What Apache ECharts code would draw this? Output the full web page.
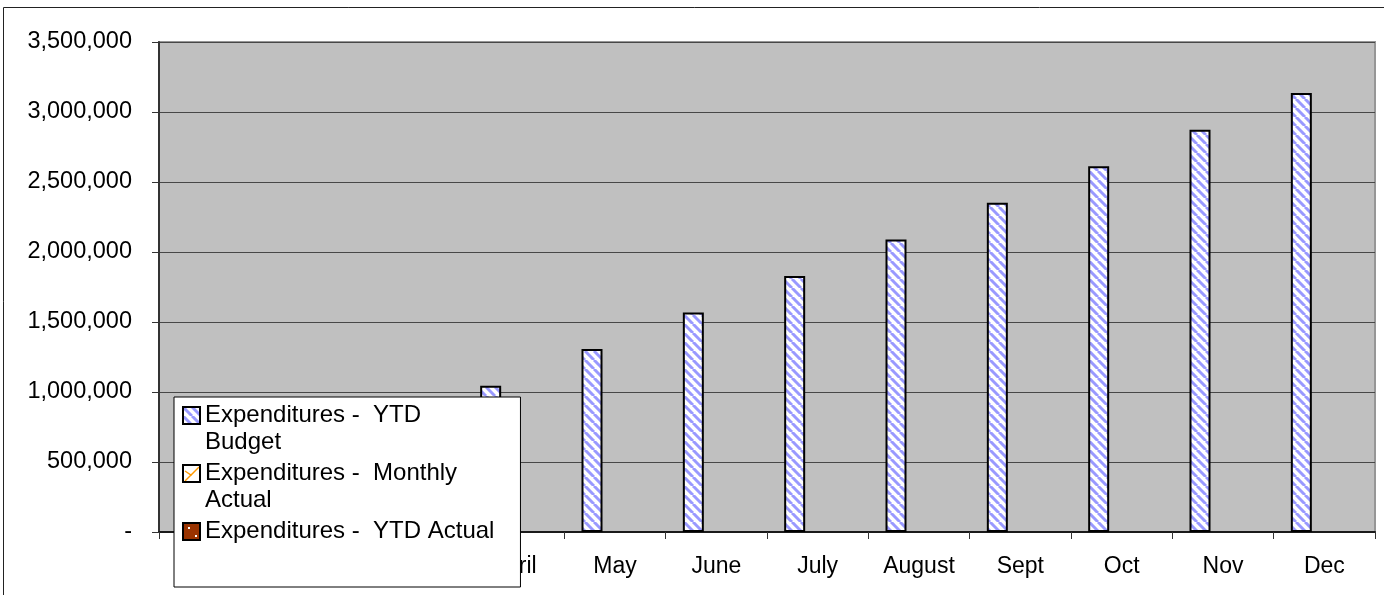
<!DOCTYPE html>
<html>
<head>
<meta charset="utf-8">
<script src="https://cdn.jsdelivr.net/npm/echarts@6/dist/echarts.min.js"></script>
<style>
html,body{margin:0;padding:0;background:#ffffff;}
#chart{width:1384px;height:595px;}
</style>
</head>
<body>
<div id="chart"></div>
<script>
// ---- data ----
const categories = ['Jan', 'Feb', 'March', 'April', 'May', 'June', 'July', 'August', 'Sept', 'Oct', 'Nov', 'Dec'];
const ytdBudget = [261000, 522500, 784000, 1045000, 1307000, 1568000, 1829000, 2090000, 2352000, 2613000, 2874000, 3135000];
const monthlyActual = [null, null, null, null, null, null, null, null, null, null, null, null];
const ytdActual = [null, null, null, null, null, null, null, null, null, null, null, null];
const seriesNames = ['Expenditures -  YTD Budget', 'Expenditures -  Monthly Actual', 'Expenditures -  YTD Actual'];
// legend text lines (first line aligned with the legend key)
const legendLines = [['Expenditures -  YTD', 'Budget'], ['Expenditures -  Monthly', 'Actual'], ['Expenditures -  YTD Actual', '']];
const yMin = 0;
const yMax = 3500000;
const yStep = 500000;

// ---- fill patterns ----
function makePattern(size, draw) {
  const c = document.createElement('canvas');
  c.width = size; c.height = size;
  const ctx = c.getContext('2d');
  draw(ctx, size);
  return { image: c, repeat: 'repeat' };
}
const hatchBlue = makePattern(9, function (ctx, s) {
  ctx.fillStyle = '#ffffff'; ctx.fillRect(0, 0, s, s);
  ctx.strokeStyle = '#9999ff'; ctx.lineWidth = 3;
  [-s, 0, s].forEach(function (k) {
    ctx.beginPath(); ctx.moveTo(k, 0); ctx.lineTo(k + s, s); ctx.stroke();
  });
});
const checkOrange = makePattern(17, function (ctx, s) {
  ctx.fillStyle = '#ffffff'; ctx.fillRect(0, 0, s, s);
  ctx.strokeStyle = '#ff9900'; ctx.lineWidth = 1.4;
  ctx.beginPath(); ctx.moveTo(2, 6); ctx.lineTo(8, 10); ctx.lineTo(16, 2); ctx.stroke();
  ctx.beginPath(); ctx.moveTo(8, 10); ctx.lineTo(2, 16); ctx.stroke();
});
const dotsBrown = makePattern(17, function (ctx, s) {
  ctx.fillStyle = '#993300'; ctx.fillRect(0, 0, s, s);
  ctx.fillStyle = '#ffffff';
  ctx.fillRect(5, 4, 2, 2);
  ctx.fillRect(12, 12, 2, 2);
});

const FONT = '"Liberation Sans", Arial, sans-serif';

const chart = echarts.init(document.getElementById('chart'), null, { renderer: 'canvas' });

const option = {
  animation: false,
  backgroundColor: '#ffffff',
  textStyle: { fontFamily: FONT },
  graphic: [{
    type: 'rect',
    silent: true,
    z: -10,
    shape: { x: 3.5, y: 7.5, width: 1390, height: 600 },
    style: { fill: null, stroke: '#222222', lineWidth: 1 }
  }],
  grid: {
    left: 159, right: 9, top: 42, bottom: 63,
    show: true,
    backgroundColor: '#c0c0c0',
    borderColor: '#969696',
    borderWidth: 2,
    outerBoundsMode: 'none',
    containLabel: false
  },
  legend: {
    orient: 'vertical',
    left: 174,
    top: 397,
    height: 1000,
    padding: [-22, 26, 15, 8],
    backgroundColor: '#ffffff',
    borderColor: '#000000',
    borderWidth: 1,
    borderRadius: 0,
    icon: 'rect',
    itemWidth: 17,
    itemHeight: 17,
    itemGap: -23,
    textGap: 7,
    selectedMode: false,
    itemStyle: { borderColor: '#000000', borderWidth: 2 },
    textStyle: { fontFamily: FONT, fontSize: 24, color: '#000000', lineHeight: 27 },
    formatter: function (name) {
      const l = legendLines[seriesNames.indexOf(name)];
      return '\n' + l[0] + '\n' + l[1];
    },
    data: seriesNames
  },
  xAxis: {
    type: 'category',
    data: categories,
    boundaryGap: true,
    axisLine: { show: true, lineStyle: { color: '#1a1a1a', width: 2 } },
    axisTick: { show: true, length: 7, alignWithLabel: false, lineStyle: { color: '#333333', width: 1 } },
    axisLabel: { interval: 0, margin: 23, fontSize: 23, color: '#000000', fontFamily: FONT },
    splitLine: { show: false }
  },
  yAxis: {
    type: 'value',
    min: yMin,
    max: yMax,
    interval: yStep,
    axisLine: { show: true, lineStyle: { color: '#333333', width: 2 } },
    axisTick: { show: true, length: 7, lineStyle: { color: '#333333', width: 1 } },
    axisLabel: {
      margin: 27, fontSize: 23.5, color: '#000000', fontFamily: FONT,
      formatter: function (v) { return v === 0 ? '-' : v.toLocaleString('en-US'); }
    },
    splitLine: { show: true, lineStyle: { color: '#474747', width: 1 } }
  },
  series: [
    {
      name: seriesNames[0], type: 'bar', data: ytdBudget,
      barWidth: 21, barGap: '9.5%',
      itemStyle: { color: hatchBlue, borderColor: '#000000', borderWidth: 2 }
    },
    {
      name: seriesNames[1], type: 'bar', data: monthlyActual,
      barWidth: 21, barGap: '9.5%',
      itemStyle: { color: checkOrange, borderColor: '#000000', borderWidth: 2 }
    },
    {
      name: seriesNames[2], type: 'bar', data: ytdActual,
      barWidth: 21, barGap: '9.5%',
      itemStyle: { color: dotsBrown, borderColor: '#000000', borderWidth: 2 }
    }
  ]
};
chart.setOption(option);
</script>
</body>
</html>
